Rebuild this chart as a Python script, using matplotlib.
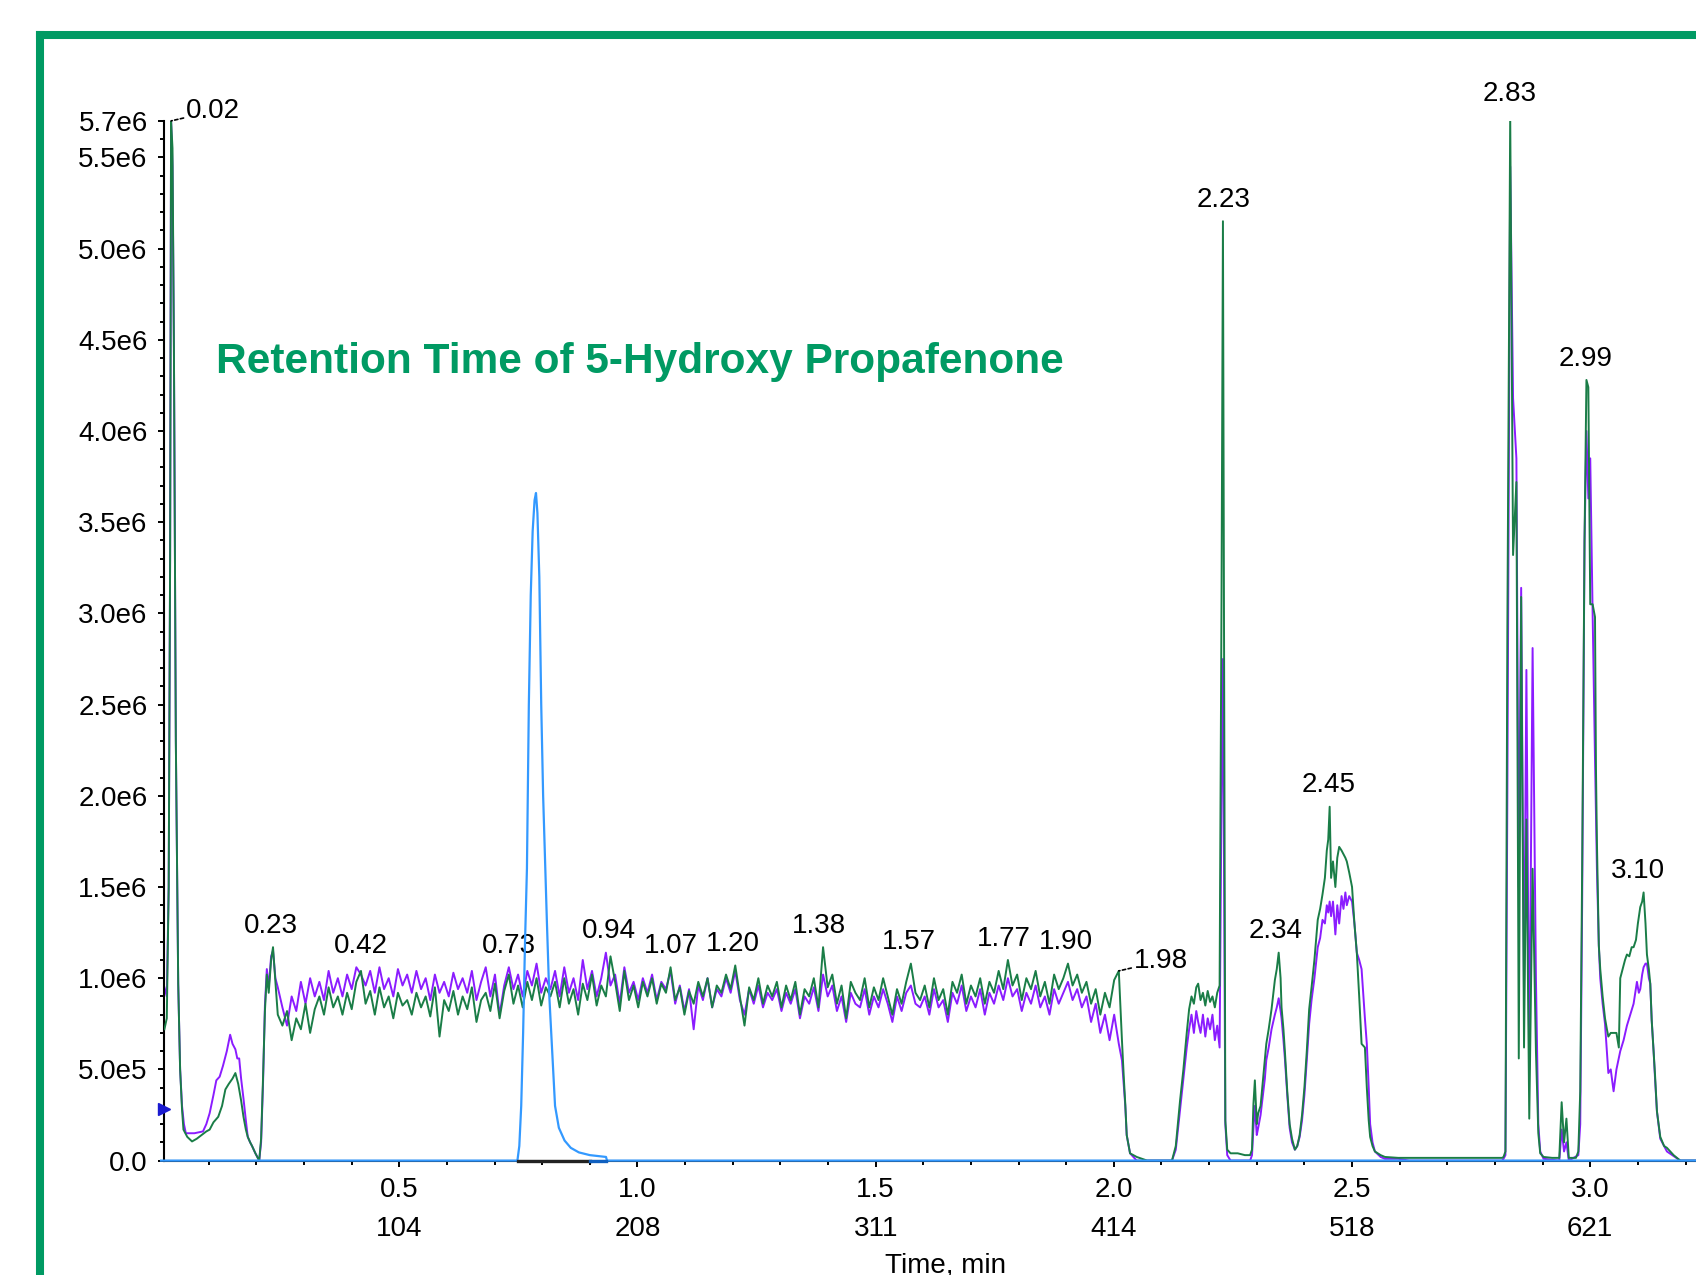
import matplotlib
matplotlib.use('Agg')
import matplotlib.pyplot as plt
from matplotlib.lines import Line2D
from matplotlib.ticker import MultipleLocator
import numpy as np

plt.rcParams['font.family'] = ['Liberation Sans', 'DejaVu Sans']

# intensities are in units of 1e6 cps, times in min

# green trace (XIC 1), start of run up to the noisy plateau
green_head_t = [0.007, 0.012, 0.016, 0.019, 0.021, 0.024, 0.027, 0.031, 0.036, 0.040,
                0.044, 0.047, 0.055, 0.065, 0.075, 0.085, 0.095, 0.102, 0.110, 0.120,
                0.128, 0.135, 0.142, 0.150, 0.156, 0.162, 0.168, 0.173, 0.178, 0.182,
                0.187, 0.191, 0.198, 0.206, 0.210, 0.214, 0.218, 0.222, 0.226, 0.231,
                0.235, 0.240]
green_head_i = [0.72, 0.78, 1.50, 3.30, 5.70, 5.55, 4.45, 2.30, 0.97, 0.50,
                0.28, 0.17, 0.13, 0.105, 0.12, 0.14, 0.16, 0.17, 0.21, 0.24,
                0.30, 0.39, 0.42, 0.45, 0.48, 0.42, 0.33, 0.24, 0.17, 0.13,
                0.10, 0.08, 0.04, 0.0, 0.12, 0.45, 0.82, 1.02, 0.92, 1.10,
                1.17, 0.98]

purple_head_t = [0.007, 0.012, 0.016, 0.019, 0.021, 0.024, 0.027, 0.031, 0.036, 0.040,
                 0.044, 0.048, 0.052, 0.070, 0.088, 0.095, 0.102, 0.110, 0.116, 0.123,
                 0.130, 0.138, 0.145, 0.150, 0.156, 0.160, 0.164, 0.168, 0.173, 0.178,
                 0.182, 0.187, 0.191, 0.198, 0.206, 0.210, 0.214, 0.218, 0.222, 0.226,
                 0.231, 0.235, 0.240]
purple_head_i = [0.95, 0.90, 1.50, 3.30, 5.70, 5.45, 4.45, 2.30, 0.97, 0.50,
                 0.30, 0.20, 0.15, 0.15, 0.16, 0.20, 0.26, 0.36, 0.44, 0.46,
                 0.52, 0.60, 0.69, 0.64, 0.61, 0.56, 0.56, 0.45, 0.34, 0.22,
                 0.13, 0.10, 0.08, 0.04, 0.0, 0.10, 0.42, 0.85, 1.05, 0.95,
                 1.12, 1.15, 1.00]

# noisy plateau, sampled every 2 scans
plateau_t0 = 0.245
plateau_step = 0.0097
green_plateau = [
    0.80, 0.74, 0.82, 0.66, 0.78, 0.72, 0.86, 0.70, 0.83, 0.90,
    0.80, 0.95, 0.84, 0.90, 0.80, 0.92, 0.83, 0.98, 1.04, 0.86,
    0.93, 0.80, 0.95, 0.84, 0.90, 0.78, 0.92, 0.85, 0.88, 0.80,
    0.92, 0.84, 0.90, 0.79, 0.95, 0.68, 0.88, 0.82, 0.93, 0.80,
    0.90, 0.83, 0.95, 0.76, 0.88, 0.92, 0.82, 0.97, 0.78, 0.93,
    1.02, 0.86, 0.96, 0.84, 0.98, 0.88, 1.00, 0.85, 0.95, 0.90,
    0.98, 0.84, 1.00, 0.86, 0.94, 0.80, 0.97, 0.88, 1.02, 0.85,
    0.96, 0.90, 1.12, 0.98, 0.82, 1.04, 0.88, 0.96, 0.84, 0.98,
    0.90, 1.00, 0.86, 0.97, 0.92, 1.06, 0.88, 0.95, 0.80, 0.93,
    0.86, 0.98, 0.90, 1.00, 0.84, 0.96, 0.92, 1.02, 0.94, 1.07,
    0.90, 0.74, 0.95, 0.88, 1.00, 0.86, 0.96, 0.90, 0.98, 0.84,
    0.96, 0.88, 0.98, 0.80, 0.94, 0.90, 1.00, 0.84, 1.17, 0.95,
    1.02, 0.86, 0.96, 0.78, 0.98, 0.92, 0.88, 1.00, 0.84, 0.95,
    0.88, 1.00, 0.90, 0.80, 0.94, 0.86, 0.98, 1.08, 0.92, 0.88,
    0.96, 0.84, 1.00, 0.88, 0.94, 0.80, 0.98, 0.92, 1.02, 0.86,
    0.96, 0.90, 1.00, 0.86, 0.98, 0.92, 1.04, 0.94, 1.10, 0.96,
    1.02, 0.88, 1.00, 0.94, 1.04, 0.90, 0.98, 0.86, 1.02, 0.94,
    1.00, 1.08, 0.96, 1.02, 0.92, 0.98, 0.86, 0.94, 0.80, 0.92,
    0.84, 0.99, 1.04]
purple_plateau = [
    0.95, 0.84, 0.74, 0.90, 0.82, 0.98, 0.86, 1.00, 0.90, 0.98,
    0.88, 1.04, 0.92, 1.00, 0.90, 1.02, 0.94, 1.06, 1.02, 0.96,
    1.04, 0.92, 1.06, 0.94, 1.00, 0.90, 1.05, 0.96, 1.02, 0.92,
    1.04, 0.94, 1.00, 0.88, 1.02, 0.92, 0.98, 0.90, 1.03, 0.94,
    1.00, 0.92, 1.04, 0.88, 0.98, 1.06, 0.90, 1.02, 0.80, 0.96,
    1.06, 0.94, 1.02, 0.90, 1.04, 0.96, 1.08, 0.92, 1.00, 0.94,
    1.04, 0.90, 1.06, 0.92, 1.00, 0.88, 1.10, 0.94, 1.04, 0.90,
    1.00, 1.14, 0.96, 1.02, 0.86, 1.06, 0.92, 0.98, 0.88, 1.00,
    0.92, 1.02, 0.88, 0.98, 0.94, 1.04, 0.86, 0.96, 0.82, 0.94,
    0.72, 0.96, 0.88, 1.00, 0.84, 0.94, 0.90, 1.00, 0.92, 1.04,
    0.88, 0.80, 0.94, 0.86, 0.96, 0.84, 0.92, 0.88, 0.94, 0.82,
    0.92, 0.86, 0.94, 0.78, 0.90, 0.86, 0.95, 0.82, 1.02, 0.90,
    0.96, 0.82, 0.90, 0.76, 0.92, 0.86, 0.84, 0.94, 0.80, 0.90,
    0.84, 0.94, 0.86, 0.76, 0.90, 0.82, 0.92, 0.96, 0.86, 0.84,
    0.90, 0.80, 0.94, 0.84, 0.88, 0.76, 0.92, 0.86, 0.96, 0.82,
    0.90, 0.84, 0.94, 0.80, 0.92, 0.86, 0.96, 0.88, 1.00, 0.90,
    0.94, 0.82, 0.92, 0.86, 0.96, 0.84, 0.90, 0.80, 0.94, 0.86,
    0.92, 0.98, 0.88, 0.94, 0.84, 0.90, 0.76, 0.86, 0.70, 0.80,
    0.66, 0.80, 0.64]

# after the plateau to end of run
green_tail_t = [2.017, 2.021, 2.024, 2.027, 2.034, 2.048, 2.070, 2.122, 2.130, 2.139,
                2.146, 2.153, 2.158, 2.163, 2.168, 2.173, 2.177, 2.182, 2.187, 2.192,
                2.197, 2.202, 2.207, 2.212, 2.217, 2.222, 2.226, 2.229, 2.234, 2.238,
                2.245, 2.260, 2.275, 2.286, 2.290, 2.293, 2.296, 2.300, 2.303, 2.308,
                2.313, 2.317, 2.320, 2.325, 2.331, 2.338, 2.342, 2.346, 2.350, 2.352,
                2.356, 2.359, 2.364, 2.369, 2.374, 2.380, 2.385, 2.390, 2.395, 2.400,
                2.405, 2.410, 2.415, 2.421, 2.428, 2.433, 2.438, 2.443, 2.447, 2.450,
                2.453, 2.456, 2.460, 2.465, 2.469, 2.473, 2.478, 2.482, 2.486, 2.489,
                2.494, 2.500, 2.505, 2.510, 2.515, 2.520, 2.527, 2.531, 2.535, 2.538,
                2.543, 2.548, 2.560, 2.569, 2.597, 2.620, 2.700, 2.815, 2.818, 2.822,
                2.826, 2.832, 2.838, 2.845, 2.850, 2.855, 2.861, 2.866, 2.872, 2.879,
                2.886, 2.891, 2.895, 2.902, 2.920, 2.935, 2.940, 2.945, 2.950, 2.955,
                2.970, 2.975, 2.979, 2.983, 2.988, 2.992, 2.996, 3.000, 3.005, 3.010,
                3.012, 3.014, 3.018, 3.021, 3.026, 3.031, 3.035, 3.038, 3.043, 3.049,
                3.055, 3.060, 3.063, 3.068, 3.073, 3.077, 3.082, 3.087, 3.091, 3.096,
                3.100, 3.105, 3.109, 3.112, 3.116, 3.119, 3.123, 3.126, 3.129, 3.133,
                3.136, 3.140, 3.147, 3.155, 3.161, 3.175, 3.189, 3.225]
green_tail_i = [0.66, 0.45, 0.31, 0.14, 0.04, 0.02, 0.0, 0.0, 0.08, 0.33,
                0.50, 0.70, 0.83, 0.90, 0.86, 0.95, 0.97, 0.88, 0.92, 0.85,
                0.93, 0.87, 0.90, 0.84, 0.92, 0.96, 3.07, 5.15, 0.22, 0.06,
                0.04, 0.04, 0.03, 0.03, 0.06, 0.31, 0.44, 0.20, 0.26, 0.30,
                0.44, 0.55, 0.64, 0.72, 0.83, 0.99, 1.05, 1.14, 1.00, 0.84,
                0.72, 0.60, 0.38, 0.20, 0.12, 0.06, 0.08, 0.14, 0.25, 0.40,
                0.60, 0.83, 0.95, 1.10, 1.32, 1.38, 1.46, 1.55, 1.70, 1.76,
                1.94, 1.55, 1.64, 1.50, 1.66, 1.72, 1.70, 1.68, 1.66, 1.64,
                1.58, 1.50, 1.30, 1.14, 0.90, 0.64, 0.62, 0.40, 0.22, 0.13,
                0.08, 0.05, 0.03, 0.02, 0.015, 0.015, 0.015, 0.015, 0.02, 0.05,
                2.90, 5.73, 3.32, 3.72, 0.56, 3.09, 0.62, 1.87, 0.23, 1.60,
                0.60, 0.15, 0.04, 0.02, 0.015, 0.015, 0.32, 0.10, 0.23, 0.015,
                0.015, 0.05, 0.38, 1.59, 3.40, 4.28, 4.24, 3.05, 3.05, 2.98,
                2.15, 1.75, 1.18, 1.05, 0.90, 0.78, 0.72, 0.68, 0.70, 0.70,
                0.70, 0.62, 1.00, 1.05, 1.10, 1.13, 1.12, 1.17, 1.17, 1.21,
                1.30, 1.39, 1.42, 1.47, 1.30, 1.13, 1.05, 0.97, 0.77, 0.60,
                0.47, 0.27, 0.13, 0.08, 0.07, 0.03, 0.0, 0.0]

purple_tail_t = [2.017, 2.024, 2.027, 2.034, 2.048, 2.122, 2.130, 2.139, 2.146, 2.153,
                 2.158, 2.163, 2.168, 2.173, 2.177, 2.182, 2.187, 2.192, 2.197, 2.202,
                 2.207, 2.212, 2.217, 2.222, 2.226, 2.229, 2.234, 2.238, 2.245, 2.286,
                 2.290, 2.293, 2.296, 2.300, 2.303, 2.308, 2.313, 2.317, 2.320, 2.325,
                 2.331, 2.338, 2.342, 2.346, 2.350, 2.352, 2.356, 2.359, 2.364, 2.369,
                 2.374, 2.380, 2.385, 2.390, 2.395, 2.400, 2.405, 2.410, 2.415, 2.421,
                 2.428, 2.433, 2.438, 2.443, 2.447, 2.450, 2.453, 2.456, 2.460, 2.465,
                 2.469, 2.473, 2.478, 2.482, 2.486, 2.489, 2.494, 2.500, 2.505, 2.510,
                 2.515, 2.520, 2.527, 2.531, 2.535, 2.538, 2.543, 2.548, 2.560, 2.569,
                 2.597, 2.620, 2.815, 2.818, 2.822, 2.826, 2.832, 2.838, 2.845, 2.850,
                 2.855, 2.861, 2.866, 2.872, 2.879, 2.886, 2.891, 2.895, 2.902, 2.935,
                 2.940, 2.945, 2.950, 2.955, 2.975, 2.979, 2.983, 2.988, 2.992, 2.996,
                 3.000, 3.005, 3.010, 3.014, 3.018, 3.021, 3.026, 3.031, 3.035, 3.038,
                 3.043, 3.049, 3.055, 3.063, 3.070, 3.077, 3.084, 3.091, 3.098, 3.102,
                 3.105, 3.109, 3.112, 3.116, 3.119, 3.123, 3.126, 3.129, 3.133, 3.136,
                 3.140, 3.147, 3.161, 3.189, 3.225]
purple_tail_i = [0.55, 0.30, 0.14, 0.04, 0.0, 0.0, 0.06, 0.28, 0.45, 0.62,
                 0.72, 0.80, 0.70, 0.82, 0.76, 0.70, 0.80, 0.68, 0.78, 0.72,
                 0.80, 0.66, 0.74, 0.62, 2.00, 2.75, 0.20, 0.03, 0.0, 0.0,
                 0.03, 0.18, 0.30, 0.14, 0.18, 0.25, 0.36, 0.45, 0.55, 0.62,
                 0.72, 0.80, 0.84, 0.89, 0.82, 0.78, 0.66, 0.56, 0.36, 0.18,
                 0.10, 0.06, 0.08, 0.13, 0.22, 0.36, 0.55, 0.75, 0.88, 1.00,
                 1.17, 1.22, 1.32, 1.30, 1.40, 1.36, 1.42, 1.34, 1.42, 1.24,
                 1.40, 1.30, 1.45, 1.38, 1.47, 1.40, 1.45, 1.42, 1.30, 1.14,
                 1.10, 1.05, 0.78, 0.64, 0.40, 0.20, 0.10, 0.05, 0.02, 0.01,
                 0.01, 0.0, 0.0, 0.01, 0.03, 2.00, 5.45, 4.18, 3.85, 1.50,
                 3.14, 0.90, 2.69, 0.50, 2.81, 1.00, 0.20, 0.05, 0.01, 0.0,
                 0.17, 0.05, 0.10, 0.0, 0.03, 0.20, 1.40, 3.39, 4.00, 3.63,
                 3.85, 3.00, 2.20, 1.60, 1.18, 1.00, 0.86, 0.75, 0.60, 0.48,
                 0.50, 0.38, 0.50, 0.60, 0.66, 0.74, 0.80, 0.86, 0.98, 0.92,
                 0.94, 1.02, 1.06, 1.08, 1.08, 1.00, 0.97, 0.77, 0.60, 0.45,
                 0.27, 0.12, 0.05, 0.0, 0.0]

# blue trace (5-hydroxy propafenone)
blue_t = [0.0, 0.748, 0.752, 0.756, 0.760, 0.764, 0.768, 0.772, 0.776, 0.780,
          0.784, 0.787, 0.790, 0.794, 0.798, 0.802, 0.806, 0.810, 0.815, 0.821,
          0.827, 0.835, 0.847, 0.860, 0.877, 0.900, 0.934, 0.936, 3.225]
blue_i = [0.0, 0.0, 0.08, 0.30, 0.70, 1.20, 1.60, 2.50, 3.10, 3.45,
          3.62, 3.66, 3.55, 3.20, 2.50, 2.00, 1.65, 1.30, 0.90, 0.60,
          0.30, 0.18, 0.11, 0.07, 0.045, 0.03, 0.02, 0.0, 0.0]

peak_labels = ['0.02', '0.23', '0.42', '0.73', '0.94', '1.07', '1.20', '1.38', '1.57',
               '1.77', '1.90', '1.98', '2.23', '2.34', '2.45', '2.83', '2.99', '3.10']
leader_labels = ['0.02', '1.98']

time_ticks = [0.5, 1.0, 1.5, 2.0, 2.5, 3.0]
scan_labels = ['104', '208', '311', '414', '518', '621']
y_ticks = [0.0, 0.5, 1.0, 1.5, 2.0, 2.5, 3.0, 3.5, 4.0, 4.5, 5.0, 5.5, 5.7]
y_tick_labels = ['0.0', '5.0e5', '1.0e6', '1.5e6', '2.0e6', '2.5e6', '3.0e6', '3.5e6',
                 '4.0e6', '4.5e6', '5.0e6', '5.5e6', '5.7e6']

title = 'Retention Time of 5-Hydroxy Propafenone'

# ---------------------------------------------------------------
frame_green = '#009a63'
c_green = '#1a7d47'
c_purple = '#8b1cff'
c_blue = '#3399ff'

plateau_t = plateau_t0 + plateau_step * np.arange(len(green_plateau))
g_t = np.concatenate([green_head_t, plateau_t, green_tail_t])
g_i = np.concatenate([green_head_i, green_plateau, green_tail_i]) * 1e6
p_t = np.concatenate([purple_head_t, plateau_t, purple_tail_t])
p_i = np.concatenate([purple_head_i, purple_plateau, purple_tail_i]) * 1e6

W, H = 1696, 1275
fig = plt.figure(figsize=(W / 100, H / 100), dpi=100)
ax = fig.add_axes([164.4 / W, 1 - 1160.6 / H, 1 - 164.4 / W, (1160.6 - 120.9) / H])

ax.plot(p_t, p_i, color=c_purple, lw=1.4, zorder=2)
ax.plot(g_t, g_i, color=c_green, lw=1.4, zorder=3)
ax.plot(blue_t, np.array(blue_i) * 1e6, color=c_blue, lw=1.6, zorder=4, clip_on=False)
# integration baseline under the blue peak
ax.plot([0.750, 0.900], [0, 0], color='#222222', lw=2.4, zorder=5, clip_on=False)
ax.plot([0.900, 0.935], [0, 0], color='#1060c0', lw=2.4, zorder=5, clip_on=False)

ax.set_xlim(0.007, 3.222)
ax.set_ylim(0, 5.7e6)

for s in ['top', 'right']:
    ax.spines[s].set_visible(False)
ax.spines['left'].set_linewidth(1.5)
ax.spines['bottom'].set_linewidth(1.5)

ax.set_xticks(time_ticks)
ax.set_xticklabels([f'{t:.1f}' for t in time_ticks])
ax.xaxis.set_minor_locator(MultipleLocator(0.1))
ax.set_yticks([v * 1e6 for v in y_ticks])
ax.set_yticklabels(y_tick_labels)
ax.yaxis.set_minor_locator(MultipleLocator(1e5))
ax.tick_params(axis='x', which='major', length=4.5, width=1.4, pad=7, labelsize=20)
ax.tick_params(axis='x', which='minor', length=3, width=1.4)
ax.tick_params(axis='y', which='major', length=4, width=1.4, pad=8, labelsize=20)
ax.tick_params(axis='y', which='minor', length=2.7, width=1.4)

for t, s in zip(time_ticks, scan_labels):
    ax.annotate(s, xy=(t, 0), xycoords=('data', 'axes fraction'), xytext=(0, -49),
                textcoords='offset points', ha='center', va='center', fontsize=20)

fig.text(946 / W, 1 - 1252 / H, 'Time, min', ha='center', va='top', fontsize=20)

# peak apex labels
for lab in peak_labels:
    t0 = float(lab)
    win = 0.04 if lab in leader_labels else 0.013
    gsel = np.abs(g_t - t0) <= win
    psel = np.abs(p_t - t0) <= win
    m = max(g_i[gsel].max(), p_i[psel].max())
    if lab in leader_labels:
        tm = g_t[gsel][np.argmax(g_i[gsel])]
        ax.annotate(lab, xy=(tm, m), xytext=(11, 7), textcoords='offset points',
                    ha='left', va='center', fontsize=20, annotation_clip=False,
                    arrowprops=dict(arrowstyle='-', lw=1.2, color='black',
                                    linestyle=(0, (2, 1.5)), shrinkA=0, shrinkB=0))
    else:
        ax.annotate(lab, xy=(t0, m), xytext=(0, 6), textcoords='offset points',
                    ha='center', va='bottom', fontsize=20, annotation_clip=False)

# marker on the y axis
ax.plot([0.0], [2.85e5], marker='>', markersize=9, color='#1a1ad0', clip_on=False,
        zorder=6, transform=ax.get_yaxis_transform())

fig.text(216 / W, 1 - 362 / H, title, color=frame_green, fontsize=30.5,
         fontweight='bold', ha='left', va='center')

# green frame around the panel
fy = 1 - 34.6 / H
fx = 40 / W
fig.add_artist(Line2D([fx, 1.05], [fy, fy], transform=fig.transFigure,
                      color=frame_green, lw=5.8, solid_capstyle='projecting'))
fig.add_artist(Line2D([fx, fx], [-0.05, fy], transform=fig.transFigure,
                      color=frame_green, lw=5.8, solid_capstyle='projecting'))

fig.savefig('out.png', dpi=100)
